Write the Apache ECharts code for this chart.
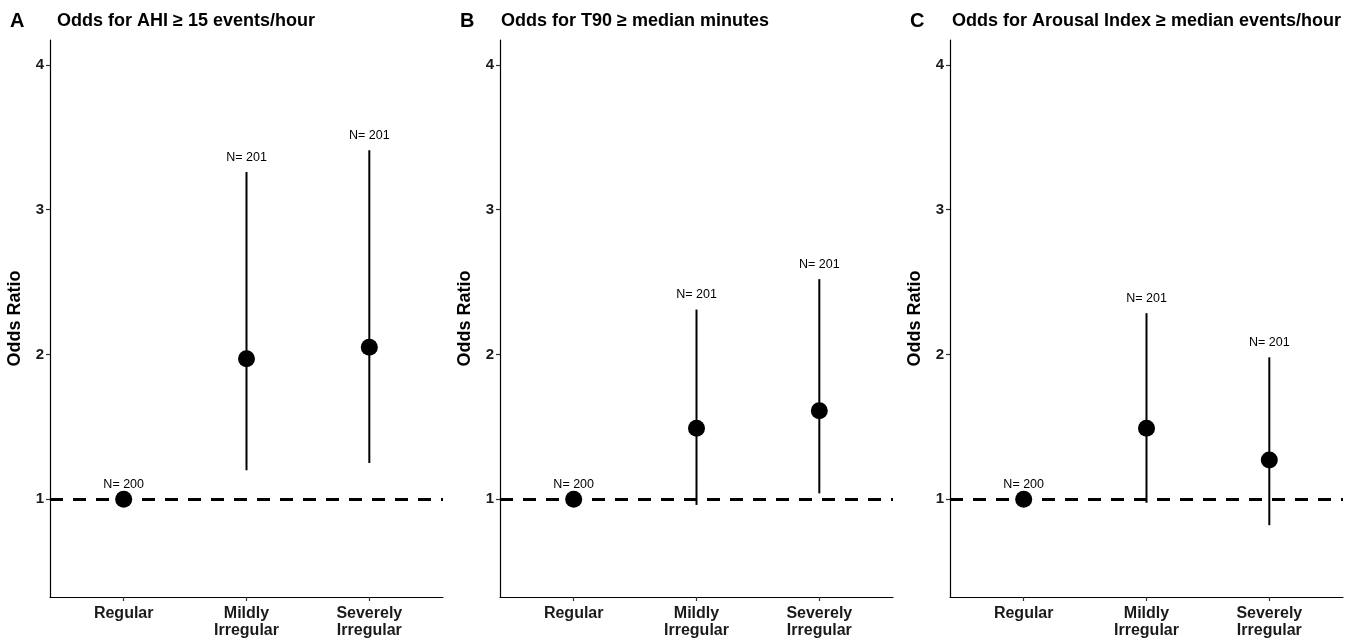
<!DOCTYPE html>
<html>
<head>
<meta charset="utf-8">
<script src="https://cdn.jsdelivr.net/npm/echarts@6/dist/echarts.min.js"></script>
<style>
  html, body { margin: 0; padding: 0; background: #fff; }
  #chart { width: 1363px; height: 640px; }
</style>
</head>
<body>
<div id="chart"></div>
<script>
// categories on the x axis (1, 2, 3)
var categories = ['Regular', 'Mildly\nIrregular', 'Severely\nIrregular'];
var panelLetters = ['A', 'B', 'C'];
var panelTitles = [
  'Odds for AHI \u2265 15 events/hour',
  'Odds for T90 \u2265 median minutes',
  'Odds for Arousal Index \u2265 median events/hour'
];
var yTicks = [1, 2, 3, 4];

// odds ratio, 95% CI, N per panel
var oddsA = [1, 1.97, 2.05];
var lowA = [1, 1.20, 1.25];
var highA = [1, 3.26, 3.41];
var nA = [200, 201, 201];

var oddsB = [1, 1.49, 1.61];
var lowB = [1, 0.96, 1.04];
var highB = [1, 2.31, 2.52];
var nB = [200, 201, 201];

var oddsC = [1, 1.49, 1.27];
var lowC = [1, 0.975, 0.82];
var highC = [1, 2.285, 1.98];
var nC = [200, 201, 201];

var panels = [
  { odds: oddsA, low: lowA, high: highA, n: nA },
  { odds: oddsB, low: lowB, high: highB, n: nB },
  { odds: oddsC, low: lowC, high: highC, n: nC }
];

var FONT = '"Liberation Sans", Arial, sans-serif';
var chart = echarts.init(document.getElementById('chart'));

var grids = [], xAxes = [], yAxes = [], series = [], titles = [];

panels.forEach(function (p, i) {
  var left = 50 + 450 * i;
  grids.push({ left: left, top: 40, width: 393, height: 557 });

  titles.push({
    text: panelLetters[i], left: 10 + 450 * i, top: 11, padding: 0,
    textStyle: { fontFamily: FONT, fontSize: 20, fontWeight: 'bold', color: '#000' }
  });
  titles.push({
    text: panelTitles[i], left: 57 + 450 * i - (i === 1 ? 6 : (i === 2 ? 5 : 0)), top: 12, padding: 0,
    textStyle: { fontFamily: FONT, fontSize: 18, fontWeight: 'bold', color: '#000' }
  });

  xAxes.push({
    gridIndex: i, type: 'value', min: 0.4, max: 3.6,
    axisLine: { lineStyle: { color: '#000', width: 1.2 } },
    axisTick: { show: true, length: 4, customValues: [1, 2, 3], lineStyle: { color: '#333', width: 1.2 } },
    axisLabel: {
      customValues: [1, 2, 3], margin: 8,
      formatter: function (v) { return categories[Math.round(v) - 1]; },
      fontFamily: FONT, fontSize: 16, fontWeight: 'bold', color: '#1a1a1a', lineHeight: 17
    },
    splitLine: { show: false }
  });

  yAxes.push({
    gridIndex: i, type: 'value', min: 0.324, max: 4.172,
    name: 'Odds Ratio', nameLocation: 'middle', nameGap: 26,
    nameTextStyle: { fontFamily: FONT, fontSize: 18, fontWeight: 'bold', color: '#000' },
    axisLine: { show: true, lineStyle: { color: '#000', width: 1.2 } },
    axisTick: { show: true, length: 4, customValues: yTicks, lineStyle: { color: '#333', width: 1.2 } },
    axisLabel: {
      customValues: yTicks, margin: 6,
      fontFamily: FONT, fontSize: 15, fontWeight: 'bold', color: '#1a1a1a'
    },
    splitLine: { show: false }
  });

  // CI lines + N labels
  series.push({
    type: 'custom', xAxisIndex: i, yAxisIndex: i, z: 3,
    data: p.odds.map(function (o, k) { return [k + 1, p.low[k], p.high[k], p.n[k]]; }),
    renderItem: function (params, api) {
      var x = api.value(0);
      var a = api.coord([x, api.value(1)]);
      var b = api.coord([x, api.value(2)]);
      return {
        type: 'group',
        children: [
          { type: 'line', shape: { x1: a[0], y1: a[1], x2: b[0], y2: b[1] },
            style: { stroke: '#000', lineWidth: 2 } },
          { type: 'text', x: b[0], y: b[1] - 14.5,
            style: { text: 'N= ' + api.value(3), align: 'center', verticalAlign: 'middle',
              fontFamily: FONT, fontSize: 12.5, fill: '#000' } }
        ]
      };
    }
  });

  // point estimates + reference line at OR = 1
  series.push({
    type: 'scatter', xAxisIndex: i, yAxisIndex: i, z: 4,
    symbol: 'circle', symbolSize: 17,
    itemStyle: { color: '#000', opacity: 1 },
    data: p.odds.map(function (o, k) { return [k + 1, o]; }),
    markLine: {
      silent: true, symbol: 'none', z: 2,
      label: { show: false },
      lineStyle: { color: '#000', type: [13, 10], width: 3.2 },
      data: [{ yAxis: 1 }]
    }
  });
});

chart.setOption({
  animation: false,
  backgroundColor: '#fff',
  title: titles,
  grid: grids,
  xAxis: xAxes,
  yAxis: yAxes,
  series: series
});
</script>
</body>
</html>
